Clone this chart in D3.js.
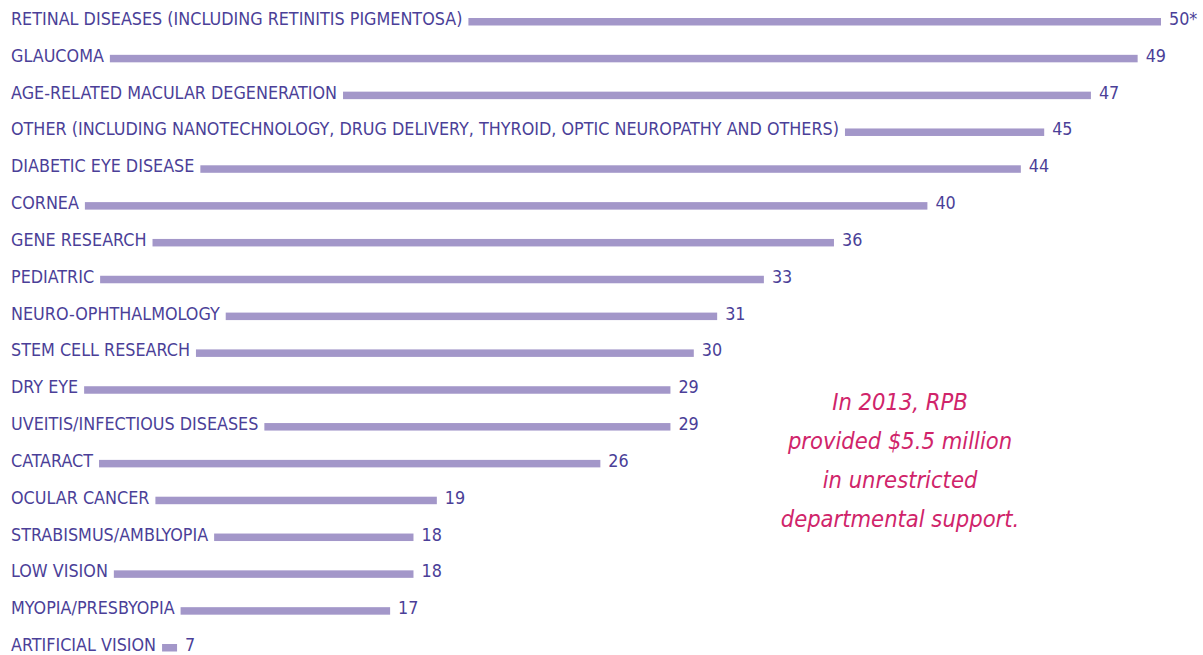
<!DOCTYPE html>
<html>
<head>
<meta charset="utf-8">
<script src="https://cdnjs.cloudflare.com/ajax/libs/d3/7.8.5/d3.min.js"></script>
<style>
  html, body { margin: 0; padding: 0; background: #fff; }
  svg { display: block; }
</style>
</head>
<body>
<div class="chart"></div>
<script>
// research areas and number of departments
const categories = [
  "RETINAL DISEASES (INCLUDING RETINITIS PIGMENTOSA)",
  "GLAUCOMA",
  "AGE-RELATED MACULAR DEGENERATION",
  "OTHER (INCLUDING NANOTECHNOLOGY, DRUG DELIVERY, THYROID, OPTIC NEUROPATHY AND OTHERS)",
  "DIABETIC EYE DISEASE",
  "CORNEA",
  "GENE RESEARCH",
  "PEDIATRIC",
  "NEURO-OPHTHALMOLOGY",
  "STEM CELL RESEARCH",
  "DRY EYE",
  "UVEITIS/INFECTIOUS DISEASES",
  "CATARACT",
  "OCULAR CANCER",
  "STRABISMUS/AMBLYOPIA",
  "LOW VISION",
  "MYOPIA/PRESBYOPIA",
  "ARTIFICIAL VISION"
];
const values = [50, 49, 47, 45, 44, 40, 36, 33, 31, 30, 29, 29, 26, 19, 18, 18, 17, 7];
const valueLabels = ["50*", "49", "47", "45", "44", "40", "36", "33", "31", "30", "29", "29", "26", "19", "18", "18", "17", "7"];
const note = ["In 2013, RPB", "provided $5.5 million", "in unrestricted", "departmental support."];

const width = 1203;
const height = 655;
const labelFont = "'Liberation Sans Narrow', 'DejaVu Sans Condensed', sans-serif";

const svg = d3.select('.chart')
  .append('svg')
  .attr('width', width)
  .attr('height', height);

const x = d3.scaleLinear().domain([0, 50]).range([-7, 1161]);
const y = d3.scalePoint().domain(categories).range([25, 651]);

const rows = svg.append('g')
  .selectAll('g')
  .data(categories)
  .join('g')
  .attr('transform', d => `translate(0,${y(d)})`);

rows.append('text')
  .attr('x', 11)
  .attr('y', 0)
  .attr('fill', '#4b3f98')
  .attr('font-family', labelFont)
  .attr('font-size', 17.8)
  .text(d => d);

// bar starts right after its label, ends at the value
rows.each(function (d, i) {
  const g = d3.select(this);
  const labelEnd = 11 + g.select('text').node().getComputedTextLength();
  const x0 = labelEnd + 6;
  const x1 = Math.max(x(values[i]), x0 + 15);
  g.append('rect')
    .attr('x', x0)
    .attr('y', -7)
    .attr('width', x1 - x0)
    .attr('height', 7.5)
    .attr('fill', '#a397c9');
  g.append('text')
    .attr('x', x1 + 8)
    .attr('y', 0)
    .attr('fill', '#4b3f98')
    .attr('font-family', labelFont)
    .attr('font-size', 17.8)
    .text(valueLabels[i]);
});

svg.append('g')
  .selectAll('text')
  .data(note)
  .join('text')
  .attr('x', 900)
  .attr('y', (d, i) => 410 + i * 39)
  .attr('text-anchor', 'middle')
  .attr('fill', '#d0246a')
  .attr('font-family', labelFont)
  .attr('font-style', 'italic')
  .attr('font-size', 23.5)
  .text(d => d);
</script>
</body>
</html>
